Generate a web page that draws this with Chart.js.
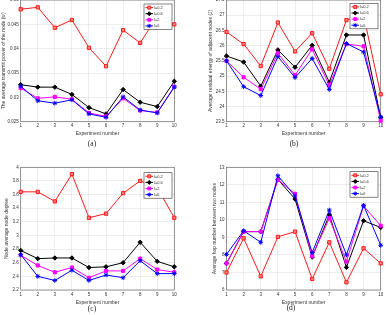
<!DOCTYPE html>
<html><head><meta charset="utf-8">
<script src="https://cdn.jsdelivr.net/npm/chart.js@4/dist/chart.umd.min.js"></script>
<style>
html,body{margin:0;padding:0;background:#fff;}
body{width:386px;height:315px;position:relative;overflow:hidden;}
canvas{position:absolute;}
.cap{position:absolute;font-family:"Liberation Serif","Times New Roman",serif;font-size:7.5px;color:#222;transform:translate(-50%,-50%);white-space:nowrap;}
</style></head><body>
<canvas id="ca" width="193" height="150" style="left:0;top:0"></canvas>
<canvas id="cb" width="193" height="150" style="left:193px;top:0"></canvas>
<canvas id="cc" width="193" height="165" style="left:0;top:150px"></canvas>
<canvas id="cd" width="193" height="165" style="left:193px;top:150px"></canvas>
<div class="cap" style="left:92px;top:143px">(a)</div>
<div class="cap" style="left:294px;top:143px">(b)</div>
<div class="cap" style="left:92px;top:308px">(c)</div>
<div class="cap" style="left:291px;top:307px">(d)</div>
<script>
// ---- data ----
const experiments = ['1','2','3','4','5','6','7','8','9','10'];
const seriesNames = ['l=0.2','l=0.6','l=2','l=6'];

const powerL02 = [0.0481,0.0485,0.0443,0.0459,0.0402,0.0364,0.0438,0.0412,0.0466,0.0450];
const powerL06 = [0.0326,0.0321,0.0321,0.0306,0.0279,0.0266,0.0316,0.0290,0.0281,0.0333];
const powerL2  = [0.0319,0.0298,0.0301,0.0296,0.0268,0.0261,0.0298,0.0273,0.0269,0.0322];
const powerL6  = [0.0323,0.0293,0.0288,0.0295,0.0266,0.0259,0.0301,0.0274,0.0268,0.0321];

const energyL02 = [26.45,26.05,25.33,26.76,25.81,26.41,25.24,26.84,27.00,24.40];
const energyL06 = [25.66,25.46,24.67,25.86,25.29,26.01,24.80,26.35,26.35,23.64];
const energyL2  = [25.50,24.96,24.57,25.75,25.03,25.88,24.70,26.05,25.98,23.53];
const energyL6  = [25.50,24.65,24.36,25.64,24.95,25.58,24.56,26.07,25.79,23.66];

const degreeL02 = [3.64,3.64,3.50,3.90,3.26,3.32,3.62,3.80,3.70,3.26];
const degreeL06 = [2.78,2.66,2.67,2.67,2.53,2.54,2.60,2.90,2.62,2.54];
const degreeL2  = [2.71,2.56,2.46,2.53,2.38,2.48,2.48,2.66,2.50,2.46];
const degreeL6  = [2.72,2.40,2.34,2.49,2.34,2.42,2.38,2.63,2.44,2.44];

const hopL02 = [7.00,8.95,6.78,9.03,9.33,6.63,8.72,6.44,8.38,7.52];
const hopL06 = [7.52,9.33,9.33,12.31,11.19,7.88,10.28,7.29,9.95,9.57];
const hopL2  = [7.52,9.33,9.33,12.29,11.49,7.92,10.09,7.62,10.79,9.67];
const hopL6  = [8.03,9.38,8.72,12.52,11.36,8.13,10.56,8.00,10.83,8.55];

// ---- styles ----
const styles = [
  {color:'#ff1a1a', fill:'#ff8080', pointStyle:'rect', radius:2.3, order:3},
  {color:'#000000', fill:'#000000', pointStyle:'rectRot', radius:2.2, order:2},
  {color:'#ff00ff', fill:'#ff00ff', pointStyle:'rect', radius:2.2, order:1},
  {color:'#0000ff', fill:'#0000ff', pointStyle:'star', radius:2.3, order:0}
];
const FONT = '"Liberation Sans", Arial, Helvetica, sans-serif';
const TXT = '#333333';

const boxPlugin = {
  id:'boxPlugin',
  beforeDatasetsDraw(chart){
    const a = chart.chartArea, ctx = chart.ctx;
    ctx.save();
    ctx.strokeStyle = '#6a6a6a';
    ctx.lineWidth = 0.7;
    ctx.strokeRect(a.left, a.top, a.right-a.left, a.bottom-a.top);
    ctx.restore();
  },
  afterDatasetsDraw(chart, args, opts){
    const a = chart.chartArea, ctx = chart.ctx;
    const w = 28, h = 25.5;
    const x0 = a.right - opts.dx - w, y0 = a.top + opts.dy;
    ctx.save();
    ctx.fillStyle = '#ffffff';
    ctx.fillRect(x0, y0, w, h);
    ctx.strokeStyle = '#333';
    ctx.lineWidth = 0.6;
    ctx.strokeRect(x0, y0, w, h);
    chart.data.datasets.forEach((ds, i) => {
      const st = styles[i];
      const yy = y0 + 3.6 + i*6.1;
      ctx.strokeStyle = st.color;
      ctx.lineWidth = 1;
      ctx.beginPath(); ctx.moveTo(x0+1.5, yy); ctx.lineTo(x0+9, yy); ctx.stroke();
      ctx.fillStyle = st.fill;
      Chart.helpers.drawPoint(ctx, {pointStyle: st.pointStyle, radius: st.radius*0.9, borderWidth: 1, rotation: 0}, x0+5.25, yy);
      ctx.fillStyle = TXT;
      ctx.font = '4px ' + FONT;
      ctx.textBaseline = 'middle';
      ctx.textAlign = 'left';
      ctx.fillText(ds.label, x0+10, yy+0.2);
    });
    ctx.restore();
  }
};

function makeChart(id, arrs, p){
  const datasets = arrs.map((arr, i) => ({
    label: seriesNames[i],
    data: arr,
    borderColor: styles[i].color,
    backgroundColor: styles[i].fill,
    pointBackgroundColor: styles[i].fill,
    pointBorderColor: styles[i].color,
    pointStyle: styles[i].pointStyle,
    pointRadius: styles[i].radius,
    pointBorderWidth: 1,
    borderWidth: 1,
    tension: 0,
    clip: false,
    order: styles[i].order
  }));
  return new Chart(document.getElementById(id), {
    type: 'line',
    data: {labels: experiments, datasets},
    plugins: [boxPlugin],
    options: {
      responsive: false,
      devicePixelRatio: 1,
      animation: false,
      events: [],
      layout: {autoPadding: false, padding: {left: 0, top: p.padTop, right: p.padRight, bottom: 0}},
      plugins: {legend: {display: false}, tooltip: {enabled: false}, boxPlugin: {dx: p.legDx, dy: p.legDy}},
      scales: {
        x: {
          type: 'category', offset: false,
          grid: {color: 'rgba(0,0,0,0.09)', lineWidth: 0.8, drawTicks: false, offset: false},
          border: {display: false},
          ticks: {font: {family: FONT, size: 4.5}, color: TXT, padding: p.xTickPad, maxRotation: 0, autoSkip: false},
          title: {display: true, text: 'Experiment number', font: {family: FONT, size: 5}, color: TXT, padding: {top: 0, bottom: p.xTitlePad}},
          afterFit(s){ s.height = p.xHeight; s.paddingLeft = 0; s.paddingRight = 0; }
        },
        y: {
          min: p.yMin, max: p.yMax,
          grid: {color: 'rgba(0,0,0,0.09)', lineWidth: 0.8, drawTicks: false},
          border: {display: false},
          ticks: {stepSize: p.step, font: {family: FONT, size: 4.5}, color: TXT, padding: 2,
                  callback: v => String(parseFloat(Number(v).toFixed(p.dec)))},
          title: {display: true, text: p.yTitle, font: {family: FONT, size: 5}, color: TXT, padding: {top: p.yTitlePad, bottom: 0}},
          afterFit(s){ s.width = p.yWidth; s.paddingTop = 0; s.paddingBottom = 0; }
        }
      }
    }
  });
}

makeChart('ca', [powerL02, powerL06, powerL2, powerL6], {
  yMin: 0.025, yMax: 0.05, step: 0.005, dec: 3,
  yTitle: 'The average transmit power of the node (w)', yTitlePad: 0.2, yWidth: 20.7,
  padTop: 0, padRight: 18.7, xHeight: 28.3, xTickPad: 1.6, xTitlePad: 13,
  legDx: 2.3, legDy: 4
});
makeChart('cb', [energyL02, energyL06, energyL2, energyL6], {
  yMin: 23.5, yMax: 27.5, step: 0.5, dec: 1,
  yTitle: 'Average residual energy of adjacent nodes (J)', yTitlePad: 15, yWidth: 33.5,
  padTop: 0, padRight: 5.3, xHeight: 28.3, xTickPad: 1.6, xTitlePad: 13,
  legDx: 2.7, legDy: 3.3
});
makeChart('cc', [degreeL02, degreeL06, degreeL2, degreeL6], {
  yMin: 2.2, yMax: 4, step: 0.2, dec: 1,
  yTitle: 'Node average node degree', yTitlePad: 3.7, yWidth: 20.7,
  padTop: 17.3, padRight: 18.7, xHeight: 25, xTickPad: 1.6, xTitlePad: 9.3,
  legDx: 2.3, legDy: 5.4
});
makeChart('cd', [hopL02, hopL06, hopL2, hopL6], {
  yMin: 6, yMax: 13, step: 1, dec: 0,
  yTitle: 'Average hop number between two nodes', yTitlePad: 19, yWidth: 33.5,
  padTop: 17.3, padRight: 5.3, xHeight: 25, xTickPad: 1.6, xTitlePad: 9.3,
  legDx: 2.7, legDy: 4.4
});
</script>
</body></html>
